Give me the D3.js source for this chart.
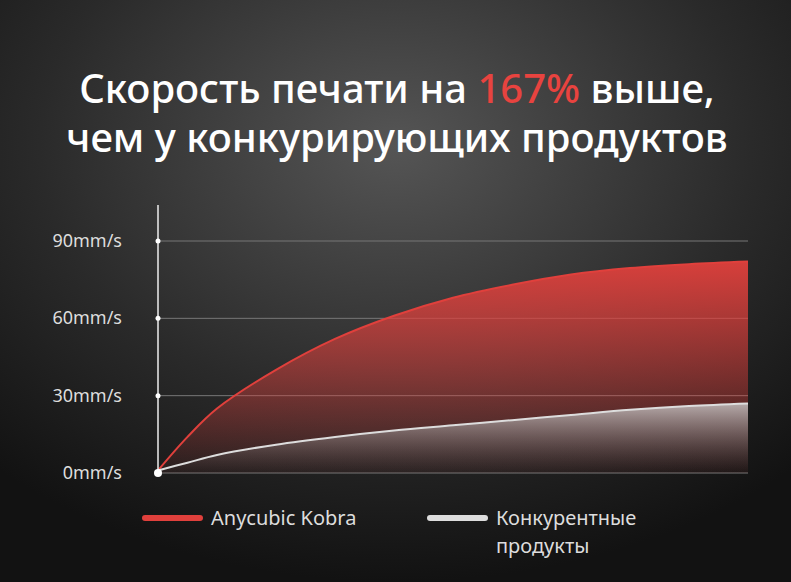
<!DOCTYPE html><html><head><meta charset="utf-8">
<script src="https://cdn.jsdelivr.net/npm/d3@7"></script>
<style>body{margin:0;background:#111}</style></head><body>
<svg id="c" width="791" height="582"></svg>
<script>
const xs=[0,0.05,0.1,0.2,0.3,0.4,0.5,0.6,0.7,0.8,0.9,1];
const kobra=[1,14,25,40,52,61,68,73,77,79.5,81,82];
const rivals=[1,4,7,11,14,16.5,18.5,20.5,22.5,24.5,26,27];
const yTicks=[0,30,60,90];
const svg=d3.select("#c");
const defs=svg.append("defs");
const bg=defs.append("radialGradient").attr("id","bg").attr("cx","50%").attr("cy","25%").attr("r","75%");
bg.append("stop").attr("offset","0").attr("stop-color","#555");
bg.append("stop").attr("offset","0.6").attr("stop-color","#2a2a2a");
bg.append("stop").attr("offset","1").attr("stop-color","#121212");
const gr=defs.append("linearGradient").attr("id","gr").attr("x1",0).attr("x2",0).attr("y1",0).attr("y2",1);
gr.append("stop").attr("offset","0").attr("stop-color","#e0403c").attr("stop-opacity",0.95);
gr.append("stop").attr("offset","1").attr("stop-color","#e0403c").attr("stop-opacity",0.05);
const gg=defs.append("linearGradient").attr("id","gg").attr("x1",0).attr("x2",0).attr("y1",0).attr("y2",1);
gg.append("stop").attr("offset","0").attr("stop-color","#ccc").attr("stop-opacity",0.8);
gg.append("stop").attr("offset","1").attr("stop-color","#666").attr("stop-opacity",0.0);
svg.append("rect").attr("width",791).attr("height",582).attr("fill","url(#bg)");
const t=svg.append("text").attr("x",397).attr("y",103).attr("text-anchor","middle").attr("font-family","Noto Sans").attr("font-size",40).attr("font-weight",500).attr("fill","#fff");
t.append("tspan").text("Скорость печати на ");
t.append("tspan").attr("fill","#e8433f").text("167%");
t.append("tspan").text(" выше,");
svg.append("text").attr("x",397).attr("y",152).attr("text-anchor","middle").attr("font-family","Noto Sans").attr("font-size",40).attr("font-weight",500).attr("fill","#fff").text("чем у конкурирующих продуктов");
const x=d3.scaleLinear().domain([0,1]).range([158,748]);
const y=d3.scaleLinear().domain([0,90]).range([473,241]);
yTicks.forEach(v=>{
 svg.append("line").attr("x1",158).attr("x2",748).attr("y1",y(v)).attr("y2",y(v)).attr("stroke","#777").attr("stroke-width",1);
 svg.append("text").attr("x",122).attr("y",y(v)+6).attr("text-anchor","end").attr("font-family","Noto Sans").attr("font-size",18).attr("fill","#ddd").text(v+"mm/s");
});
const area=d3.area().x((d,i)=>x(xs[i])).y0(y(0)).y1(d=>y(d)).curve(d3.curveCatmullRom);
const line=d3.line().x((d,i)=>x(xs[i])).y(d=>y(d)).curve(d3.curveCatmullRom);
svg.append("path").attr("d",area(kobra)).attr("fill","url(#gr)");
svg.append("path").attr("d",line(kobra)).attr("fill","none").attr("stroke","#e0403c").attr("stroke-width",2);
svg.append("path").attr("d",area(rivals)).attr("fill","url(#gg)");
svg.append("path").attr("d",line(rivals)).attr("fill","none").attr("stroke","#ddd").attr("stroke-width",2);
svg.append("line").attr("x1",158).attr("x2",158).attr("y1",205).attr("y2",475).attr("stroke","#eee").attr("stroke-width",1.5);
yTicks.forEach(v=>svg.append("circle").attr("cx",158).attr("cy",y(v)).attr("r",v?2.5:4).attr("fill","#fff"));
svg.append("line").attr("x1",145).attr("x2",200).attr("y1",518).attr("y2",518).attr("stroke","#e0403c").attr("stroke-width",6).attr("stroke-linecap","round");
svg.append("text").attr("x",211).attr("y",525).attr("font-family","Noto Sans").attr("font-size",20).attr("fill","#ddd").text("Anycubic Kobra");
svg.append("line").attr("x1",430).attr("x2",485).attr("y1",518).attr("y2",518).attr("stroke","#ddd").attr("stroke-width",6).attr("stroke-linecap","round");
svg.append("text").attr("x",496).attr("y",525).attr("font-family","Noto Sans").attr("font-size",20).attr("fill","#ddd").text("Конкурентные");
svg.append("text").attr("x",496).attr("y",553).attr("font-family","Noto Sans").attr("font-size",20).attr("fill","#ddd").text("продукты");
</script></body></html>
